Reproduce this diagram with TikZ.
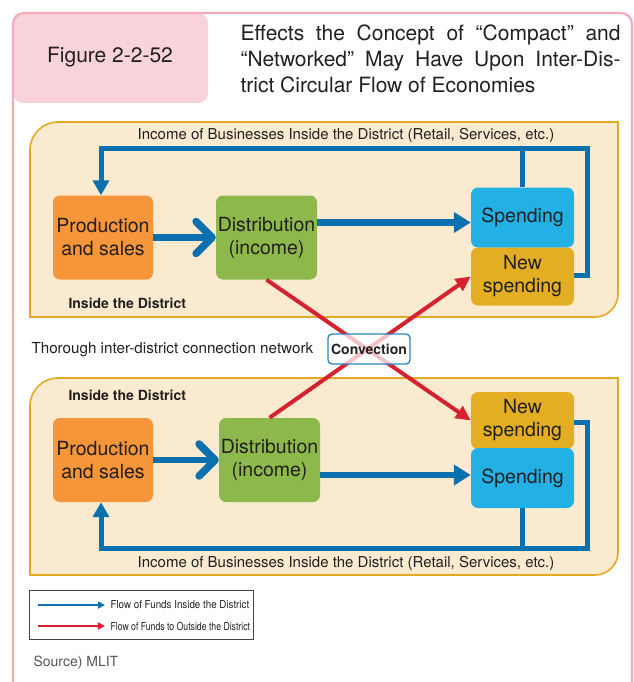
\documentclass[tikz,border=0pt]{standalone}
\usepackage{fontspec}
\setmainfont{TeX Gyre Heros}
\usepackage{graphicx}
\usetikzlibrary{arrows.meta}

\definecolor{ink}{HTML}{231F20}
\definecolor{framepink}{HTML}{F5A9B9}
\definecolor{headpink}{HTML}{F9D3DC}
\definecolor{panelfill}{HTML}{FAEBD0}
\definecolor{paneledge}{HTML}{E3A923}
\definecolor{cOrange}{HTML}{F7953A}
\definecolor{cGreen}{HTML}{8DB84C}
\definecolor{cCyan}{HTML}{22B0E5}
\definecolor{cGold}{HTML}{E3AE23}
\definecolor{flowblue}{HTML}{0A70AE}
\definecolor{flowred}{HTML}{D6222E}
\definecolor{convblue}{HTML}{2A82C2}
\definecolor{legendgray}{HTML}{444444}
\definecolor{srcgray}{HTML}{555555}

\newcommand\pxfont[2]{\fontsize{#1}{#2}\selectfont}

\begin{document}
\begin{tikzpicture}[x=1pt,y=-1pt,
  panel/.style={fill=panelfill, draw=paneledge, line width=1.6pt},
  stagebox/.style={rounded corners=7pt, text=ink, align=center, inner sep=0pt,
    font=\pxfont{19.5}{23}},
  fatflow/.style={draw=flowblue, line width=6.5pt},
  chevron/.style={-{Straight Barb[length=16pt, width=32pt, line width=7.5pt, round]}},
  loopflow/.style={draw=flowblue, line width=5pt, line join=miter},
  outflow/.style={draw=flowred, line width=4pt, -{Triangle[length=15pt,width=14pt]}},
  bandlabel/.style={text=ink, font=\pxfont{15}{18}},
  districtlabel/.style={text=ink, font=\bfseries\pxfont{14}{17}, anchor=west},
  legendtext/.style={text=ink, anchor=west, font=\pxfont{11}{13}},
]
\useasboundingbox (0,0) rectangle (633,682);

% page frame and heading
\fill[headpink, rounded corners=10pt] (13,13) rectangle (208,103);
\draw[framepink, line width=2.2pt] (13,682) -- (13,24)
  arc[start angle=180, end angle=270, radius=11] -- (621,13)
  arc[start angle=270, end angle=360, radius=11] -- (632,682);
\node[text=ink, font=\pxfont{21}{25}] (fig) at (110,57) {Figure 2-2-52};
\node[text=ink, font=\pxfont{21}{26}, anchor=base west] (title1) at (237,41)
  {\makebox[380pt][s]{Effects the Concept of “Compact” and}};
\node[text=ink, font=\pxfont{21}{26}, anchor=base west] (title2) at (237,67)
  {\makebox[380pt][s]{“Networked” May Have Upon Inter-Dis-}};
\node[text=ink, font=\pxfont{21}{26}, anchor=base west] (title3) at (237,93)
  {trict Circular Flow of Economies};

% district panels
\filldraw[panel] (30,317) -- (30,150) arc[start angle=180, end angle=270, radius=28]
  -- (618,122) -- (618,294) arc[start angle=0, end angle=90, radius=23] -- cycle;
\filldraw[panel] (30,575) -- (30,406) arc[start angle=180, end angle=270, radius=28]
  -- (618,378) -- (618,552) arc[start angle=0, end angle=90, radius=23] -- cycle;

% upper district
\node[bandlabel] (incA) at (346,135) {Income of Businesses Inside the District (Retail, Services, etc.)};
\node[districtlabel] (inA) at (65,303) {Inside the District};
\node[stagebox, fill=cOrange, minimum width=100pt, minimum height=84pt] (prodA) at (103,237.5) {Production\\and sales};
\node[stagebox, fill=cGreen, minimum width=101pt, minimum height=84pt] (distA) at (266.5,237.5) {Distribution\\(income)};
\node[stagebox, fill=cCyan, minimum width=103pt, minimum height=60pt] (spendA) at (522.5,217.5) {Spending};
\node[stagebox, fill=cGold, minimum width=103pt, minimum height=58pt] (newA) at (522.5,276.5) {New\\spending};

% lower district
\node[districtlabel] (inB) at (65,395) {Inside the District};
\node[bandlabel] (incB) at (346,563) {Income of Businesses Inside the District (Retail, Services, etc.)};
\node[stagebox, fill=cOrange, minimum width=100pt, minimum height=84pt] (prodB) at (103,460) {Production\\and sales};
\node[stagebox, fill=cGreen, minimum width=101pt, minimum height=84pt] (distB) at (269.5,460) {Distribution\\(income)};
\node[stagebox, fill=cGold, minimum width=103pt, minimum height=57pt] (newB) at (522.5,420.5) {New\\spending};
\node[stagebox, fill=cCyan, minimum width=103pt, minimum height=60pt] (spendB) at (522.5,478) {Spending};

% flows inside the upper district
\draw[fatflow, chevron] (prodA.east) -- (distA.west);
\draw[fatflow, -{Triangle[length=17pt, width=20pt]}] ([yshift=15pt]distA.east) -- ([yshift=15pt]distA.east -| spendA.west);
\draw[loopflow] (spendA.north) -- (spendA.north |- 0,148);
\draw[loopflow, -{Triangle[length=15pt, width=16pt]}] (newA.east |- 0,275) -| (587,148) -| ([xshift=-2pt]prodA.north);

% flows inside the lower district
\draw[fatflow, chevron] (prodB.east) -- (distB.west);
\draw[fatflow, -{Triangle[length=17pt, width=20pt]}] ([yshift=-15pt]distB.east) -- ([yshift=-15pt]distB.east -| spendB.west);
\draw[loopflow] (spendB.south) -- (spendB.south |- 0,548);
\draw[loopflow, -{Triangle[length=15pt, width=16pt]}] (newB.east |- 0,422) -| (587,548) -| ([xshift=-2pt]prodB.south);

% flows between districts
\draw[outflow] (distA.south) -- (newB.west);
\draw[outflow] (distB.north) -- (newA.west);

% connection network label
\node[text=ink, font=\pxfont{15.2}{18}, anchor=west] (net) at (28,350) {Thorough inter-district connection network};
\node[draw=convblue, fill=white, fill opacity=0.72, text opacity=1, line width=1.3pt, rounded corners=4pt,
  minimum width=82pt, minimum height=30pt, inner sep=0pt, text=ink, font=\bfseries\pxfont{14}{17}] (conv) at (369,349) {Convection};

% legend
\node[draw=legendgray, line width=0.9pt, minimum width=224pt, minimum height=49pt, inner sep=0pt, anchor=north west] (legend) at (29,590) {};
\coordinate (lbS) at (38,605);
\coordinate (lbE) at (105,605);
\coordinate (lrS) at (38,626);
\coordinate (lrE) at (105,626);
\draw[flowblue, line width=2.6pt, -{Triangle[length=7pt, width=7pt]}] (lbS) -- (lbE);
\draw[flowred, line width=2.6pt, -{Triangle[length=7pt, width=7pt]}] (lrS) -- (lrE);
\node[legendtext] (lgB) at (107,605) {\scalebox{0.89}[1]{Flow of Funds Inside the District}};
\node[legendtext] (lgR) at (107,626) {\scalebox{0.79}[1]{Flow of Funds to Outside the District}};

\node[text=srcgray, font=\pxfont{14}{17}, anchor=base west] (src) at (30,666) {Source) MLIT};
\end{tikzpicture}
\end{document}
